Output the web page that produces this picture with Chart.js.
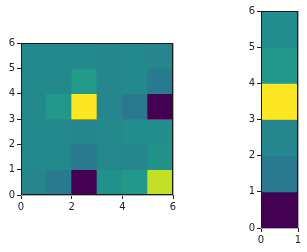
<!DOCTYPE html>
<html>
<head>
<meta charset="utf-8">
<script src="https://cdn.jsdelivr.net/npm/chart.js@4"></script>
<style>
  html, body { margin: 0; padding: 0; background: #fff; }
  body { width: 307px; height: 252px; position: relative; overflow: hidden; }
  .box { position: absolute; }
</style>
</head>
<body>
<div class="box" style="left:0px; top:33px; width:185px; height:190px;"><canvas id="heat"></canvas></div>
<div class="box" style="left:240px; top:0px; width:67px; height:252px;"><canvas id="side"></canvas></div>
<script>
// cell values, one row per y band (row 0 = bottom), 0 = darkest, 1 = brightest
var heatRow0 = [0.45, 0.41, 0.00, 0.50, 0.53, 0.91];
var heatRow1 = [0.47, 0.47, 0.41, 0.47, 0.46, 0.51];
var heatRow2 = [0.47, 0.47, 0.46, 0.47, 0.48, 0.49];
var heatRow3 = [0.47, 0.53, 1.00, 0.46, 0.40, 0.00];
var heatRow4 = [0.47, 0.47, 0.54, 0.46, 0.47, 0.41];
var heatRow5 = [0.47, 0.47, 0.47, 0.46, 0.47, 0.45];
var heatRows = [heatRow0, heatRow1, heatRow2, heatRow3, heatRow4, heatRow5];

// the narrow strip on the right, bottom to top
var sideValues = [0.00, 0.41, 0.46, 1.00, 0.53, 0.48];

var heatXTicks = [0, 2, 4, 6];
var heatYTicks = [0, 1, 2, 3, 4, 5, 6];
var sideXTicks = [0, 1];

// viridis colormap
var viridis = ['#440154', '#482475', '#414487', '#355f8d', '#2a788e', '#21918c',
               '#22a884', '#44bf70', '#7ad151', '#bddf26', '#fde725'];

function hexToRgb(h) {
    return [parseInt(h.substr(1, 2), 16), parseInt(h.substr(3, 2), 16), parseInt(h.substr(5, 2), 16)];
}

function colourFor(v) {
    v = Math.max(0, Math.min(1, v));
    var pos = v * (viridis.length - 1);
    var i = Math.min(Math.floor(pos), viridis.length - 2);
    var t = pos - i;
    var a = hexToRgb(viridis[i]), b = hexToRgb(viridis[i + 1]);
    var c = a.map(function (x, k) { return Math.round(x + (b[k] - x) * t); });
    return 'rgb(' + c[0] + ',' + c[1] + ',' + c[2] + ')';
}

var textColour = '#222';
var gridColour = '#b0b0b0';
var tickFont = { family: 'DejaVu Sans', size: 10 };

// black frame round the plot area
var framePlugin = {
    id: 'frame',
    afterDraw: function (chart) {
        var a = chart.chartArea, ctx = chart.ctx;
        ctx.save();
        ctx.strokeStyle = '#1a1a1a';
        ctx.lineWidth = 1;
        ctx.strokeRect(Math.round(a.left) + 0.5, Math.round(a.top) + 0.5,
            Math.round(a.right - a.left) - 1, Math.round(a.bottom - a.top) - 1);
        ctx.restore();
    }
};

function makeAxis(min, max, step, tickList, size, isY) {
    return {
        type: 'linear',
        min: min,
        max: max,
        offset: false,
        z: 1,
        afterBuildTicks: function (scale) {
            scale.ticks = tickList.map(function (v) { return { value: v }; });
        },
        afterFit: function (scale) {
            if (isY) scale.width = size; else scale.height = size;
        },
        ticks: {
            stepSize: step,
            color: textColour,
            font: tickFont,
            padding: 2,
            maxRotation: 0,
            autoSkip: false
        },
        grid: {
            offset: false,
            color: gridColour,
            lineWidth: 1,
            drawTicks: true,
            tickLength: 4,
            tickColor: textColour
        },
        border: { display: false }
    };
}

// build heatmap cells from the rows
var heatData = [];
var heatColours = [];
for (var r = 0; r < heatRows.length; r++) {
    for (var c = 0; c < heatRows[r].length; c++) {
        heatData.push({ x: c + 0.5, y: [r, r + 1] });
        heatColours.push(colourFor(heatRows[r][c]));
    }
}

new Chart(document.getElementById('heat'), {
    type: 'bar',
    data: {
        datasets: [{
            data: heatData,
            backgroundColor: heatColours,
            borderWidth: 0,
            barPercentage: 1,
            categoryPercentage: 1
        }]
    },
    options: {
        responsive: true,
        maintainAspectRatio: false,
        animation: false,
        events: [],
        layout: { padding: { top: 10, right: 12, left: 0, bottom: 0 } },
        plugins: { legend: { display: false }, tooltip: { enabled: false } },
        scales: {
            x: makeAxis(0, 6, 2, heatXTicks, 28, false),
            y: makeAxis(0, 6, 1, heatYTicks, 21, true)
        }
    },
    plugins: [framePlugin]
});

var sideData = [];
var sideColours = [];
for (var s = 0; s < sideValues.length; s++) {
    sideData.push({ x: 0.5, y: [s, s + 1] });
    sideColours.push(colourFor(sideValues[s]));
}

new Chart(document.getElementById('side'), {
    type: 'bar',
    data: {
        datasets: [{
            data: sideData,
            backgroundColor: sideColours,
            borderWidth: 0,
            barPercentage: 1,
            categoryPercentage: 1
        }]
    },
    options: {
        responsive: true,
        maintainAspectRatio: false,
        animation: false,
        events: [],
        layout: { padding: { top: 11, right: 9, left: 0, bottom: 0 } },
        plugins: { legend: { display: false }, tooltip: { enabled: false } },
        scales: {
            x: makeAxis(0, 1, 1, sideXTicks, 24, false),
            y: makeAxis(0, 6, 1, heatYTicks, 21, true)
        }
    },
    plugins: [framePlugin]
});
</script>
</body>
</html>
